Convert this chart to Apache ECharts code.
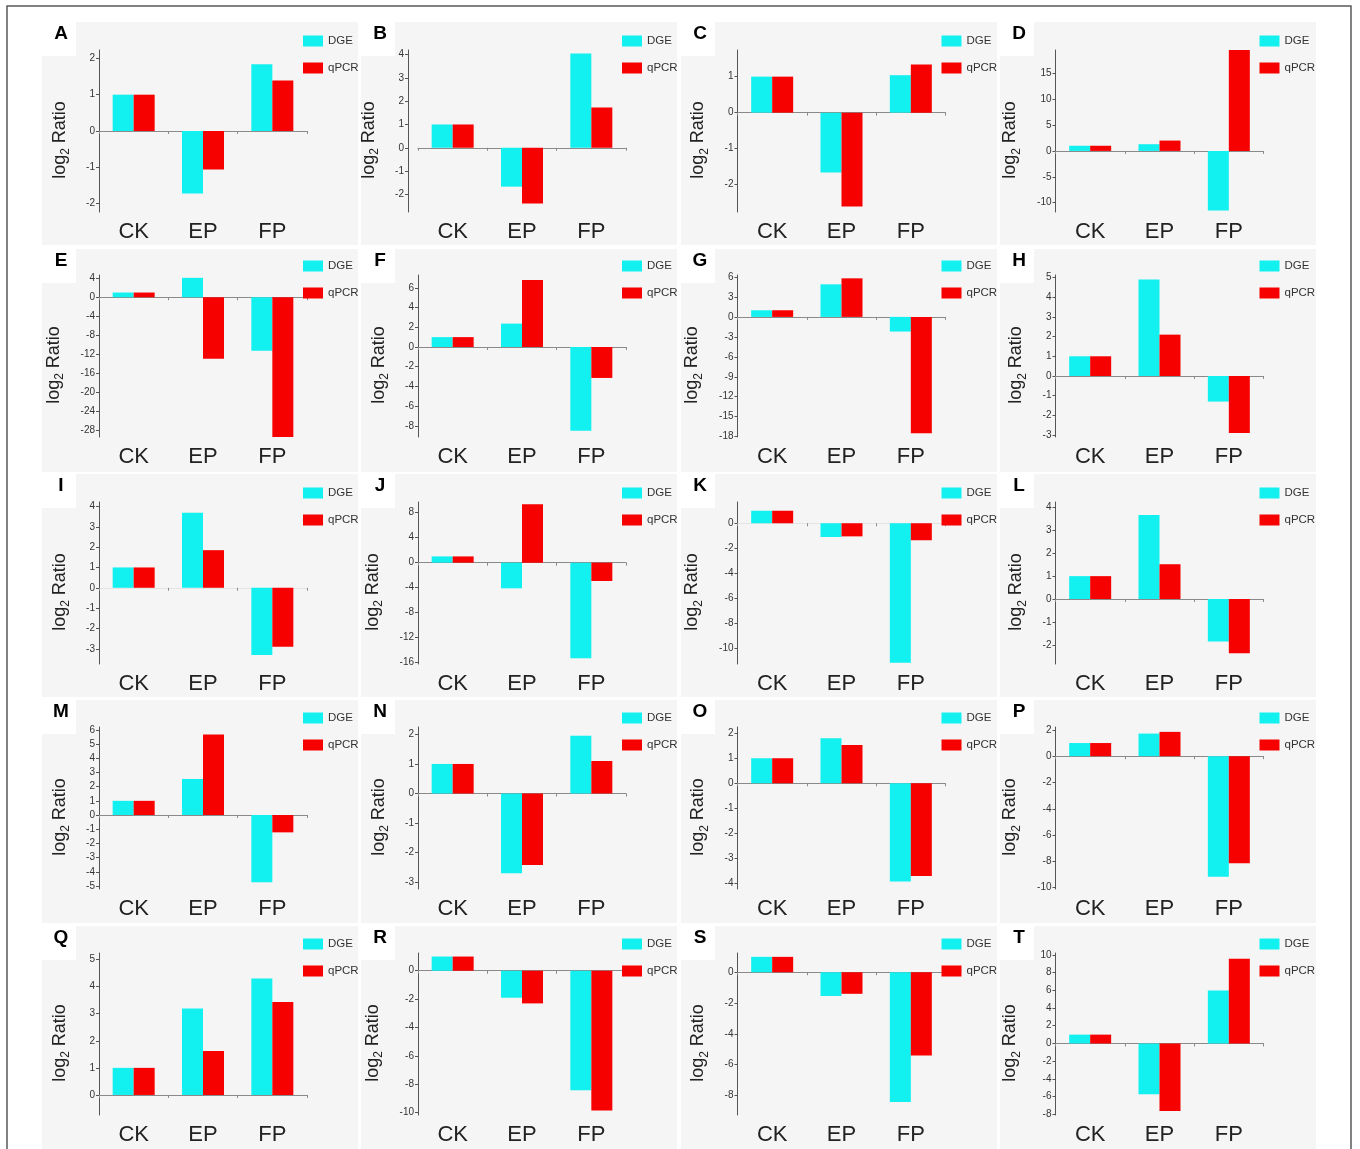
<!DOCTYPE html>
<html>
<head>
<meta charset="utf-8">
<title>DGE vs qPCR</title>
<script src="https://cdn.jsdelivr.net/npm/echarts@6/dist/echarts.min.js"></script>
<style>
  html, body { margin: 0; padding: 0; background: #fff; }
  #Diagram { width: 1360px; height: 1149px; }
</style>
</head>
<body>
<div id="Diagram"></div>
<script>
// values, one entry per panel A..T
var panelLetters = ['A', 'B', 'C', 'D', 'E', 'F', 'G', 'H', 'I', 'J', 'K', 'L', 'M', 'N', 'O', 'P', 'Q', 'R', 'S', 'T']
var categories = ['CK', 'EP', 'FP']
var seriesNames = ['DGE', 'qPCR']

var dgeValues = [
  [1, -1.72, 1.84], [1, -1.67, 4.05], [1, -1.66, 1.04], [1, 1.3, -11.5],
  [1, 4.1, -11.3], [1, 2.37, -8.5], [1, 4.9, -2.2], [1, 4.9, -1.3],
  [1, 3.69, -3.31], [1, -4.1, -15.3], [1, -1.1, -11.15], [1, 3.67, -1.86],
  [1, 2.54, -4.74], [1, -2.7, 1.95], [1, 1.8, -3.93], [1, 1.72, -9.16],
  [1, 3.19, 4.3], [1, -1.9, -8.42], [1, -1.54, -8.43], [1, -5.73, 5.96]
]
var qpcrValues = [
  [1, -1.06, 1.39], [1, -2.39, 1.73], [1, -2.61, 1.34], [1, 2.0, 19.5],
  [1, -13.0, -29.6], [1, 6.8, -3.14], [1, 5.8, -17.5], [1, 2.1, -2.9],
  [1, 1.85, -2.9], [1, 9.34, -2.93], [1, -1.05, -1.36], [1, 1.52, -2.37],
  [1, 5.68, -1.22], [1, -2.42, 1.1], [1, 1.53, -3.71], [1, 1.85, -8.15],
  [1, 1.62, 3.43], [1, -2.3, -9.84], [1, -1.4, -5.4], [1, -7.6, 9.55]
]

// y axis extents
var axisMin = [-2.23, -2.76, -2.76, -11.8, -29.5, -9.13, -18.05, -3.1, -3.75, -16.2,
  -11.26, -2.84, -5.21, -3.23, -4.23, -10.1, -0.74, -10.16, -9.27, -8.06]
var axisMax = [2.23, 4.2, 1.74, 19.5, 4.7, 7.3, 6.3, 5.13, 4.22, 9.7,
  1.7, 4.24, 6.2, 2.25, 2.25, 2.22, 5.24, 1.25, 1.25, 10.2]

// y tick labels
var tickValues = [
  [-2, -1, 0, 1, 2],
  [-2, -1, 0, 1, 2, 3, 4],
  [-2, -1, 0, 1],
  [-10, -5, 0, 5, 10, 15],
  [-28, -24, -20, -16, -12, -8, -4, 0, 4],
  [-8, -6, -4, -2, 0, 2, 4, 6],
  [-18, -15, -12, -9, -6, -3, 0, 3, 6],
  [-3, -2, -1, 0, 1, 2, 3, 4, 5],
  [-3, -2, -1, 0, 1, 2, 3, 4],
  [-16, -12, -8, -4, 0, 4, 8],
  [-10, -8, -6, -4, -2, 0],
  [-2, -1, 0, 1, 2, 3, 4],
  [-5, -4, -3, -2, -1, 0, 1, 2, 3, 4, 5, 6],
  [-3, -2, -1, 0, 1, 2],
  [-4, -3, -2, -1, 0, 1, 2],
  [-10, -8, -6, -4, -2, 0, 2],
  [0, 1, 2, 3, 4, 5],
  [-10, -8, -6, -4, -2, 0],
  [-8, -6, -4, -2, 0],
  [-8, -6, -4, -2, 0, 2, 4, 6, 8, 10]
]

// layout
var colLeft = [99, 418, 737.5, 1055.5]
var rowTop = [50, 275, 502, 727, 953]
var gridW = 208
var gridH = 162
var panelX = [42, 361, 681, 1000]
var panelY = [22, 249, 474, 700, 926]
var panelW = 316
var panelH = 223
var faintZeroLine = ['I', 'K']
var yAxisShift = { B: 10 }

var cyan = '#12f0f0'
var red = '#f70000'
var sans = "'Liberation Sans', Arial, sans-serif"
var narrow = "'Liberation Sans Narrow', 'Liberation Sans', Arial, sans-serif"

var Diagram = document.getElementById('Diagram')
var myChart = echarts.init(Diagram)

var grids = []
var xAxes = []
var yAxes = []
var series = []
var legends = []
var graphics = [
  {
    type: 'rect',
    z: -20,
    shape: { x: 7, y: 6, width: 1344, height: 1170 },
    style: { fill: '#fff', stroke: '#5a5a5a', lineWidth: 1.5 }
  }
]

panelLetters.forEach(function(letter, i) {
  var col = i % 4
  var row = Math.floor(i / 4)
  var left = colLeft[col]
  var top = rowTop[row]
  var faint = faintZeroLine.indexOf(letter) >= 0
  var bigTicks = tickValues[i].some(function(v) { return Math.abs(v) >= 10 })

  // panel background + letter
  graphics.push({
    type: 'rect',
    z: -10,
    shape: { x: panelX[col], y: panelY[row], width: panelW, height: panelH },
    style: { fill: '#f5f5f5' }
  })
  graphics.push({
    type: 'rect',
    z: -5,
    shape: { x: panelX[col], y: panelY[row], width: 34, height: 34 },
    style: { fill: '#fff' }
  })
  graphics.push({
    type: 'text',
    z: 5,
    x: panelX[col] + 19,
    y: panelY[row] + 12,
    style: {
      text: letter,
      fill: '#000',
      font: 'bold 19px ' + sans,
      textAlign: 'center',
      textVerticalAlign: 'middle'
    }
  })

  grids.push({ left: left, top: top, width: gridW, height: gridH })

  // x axis drawn on the zero line (bars use this one)
  xAxes.push({
    type: 'category',
    gridIndex: i,
    position: 'bottom',
    data: categories,
    axisLine: { onZero: true, lineStyle: { color: faint ? '#e4e4e4' : '#8a8a8a', width: 1.2 } },
    axisTick: { show: true, length: 3, lineStyle: { color: '#8a8a8a' } },
    axisLabel: { show: false },
    splitLine: { show: false }
  })
  // category names sit at the bottom of the plot
  xAxes.push({
    type: 'category',
    gridIndex: i,
    position: 'bottom',
    data: categories,
    axisLine: { show: false, onZero: false },
    axisTick: { show: false },
    axisLabel: {
      margin: 9,
      fontSize: 22,
      fontFamily: narrow,
      color: '#222'
    },
    splitLine: { show: false }
  })

  yAxes.push({
    type: 'value',
    gridIndex: i,
    min: axisMin[i],
    max: axisMax[i],
    offset: yAxisShift[letter] || 0,
    name: '{m|log}{s|2}{m| Ratio}',
    nameLocation: 'middle',
    nameRotate: 90,
    nameGap: bigTicks ? 33 : 27,
    nameTextStyle: {
      padding: [0, 18, 0, 0],
      rich: {
        m: { fontSize: 18, lineHeight: 24, fontFamily: sans, color: '#222' },
        s: { fontSize: 12, lineHeight: 12, verticalAlign: 'bottom', fontFamily: sans, color: '#222' }
      }
    },
    axisLine: { show: true, onZero: false, lineStyle: { color: '#555', width: 1 } },
    axisTick: { show: true, length: 3, customValues: tickValues[i], lineStyle: { color: '#555' } },
    axisLabel: {
      customValues: tickValues[i],
      margin: 4,
      fontSize: 10,
      fontFamily: narrow,
      color: '#333'
    },
    splitLine: { show: false }
  })

  series.push({
    name: seriesNames[0],
    type: 'bar',
    xAxisIndex: 2 * i,
    yAxisIndex: i,
    barWidth: 21,
    barGap: '0%',
    itemStyle: { color: cyan },
    data: dgeValues[i]
  })
  series.push({
    name: seriesNames[1],
    type: 'bar',
    xAxisIndex: 2 * i,
    yAxisIndex: i,
    barWidth: 21,
    barGap: '0%',
    itemStyle: { color: red },
    data: qpcrValues[i]
  })

  legends.push({
    orient: 'vertical',
    left: left + 204,
    top: top - 15,
    padding: 0,
    itemWidth: 20,
    itemHeight: 11,
    itemGap: 15,
    icon: 'rect',
    selectedMode: false,
    data: seriesNames,
    textStyle: { fontSize: 11.5, fontFamily: sans, color: '#333' }
  })
})

var option = {
  animation: false,
  backgroundColor: '#fff',
  graphic: { elements: graphics },
  legend: legends,
  grid: grids,
  xAxis: xAxes,
  yAxis: yAxes,
  series: series
}

myChart.setOption(option, true)
</script>
</body>
</html>
